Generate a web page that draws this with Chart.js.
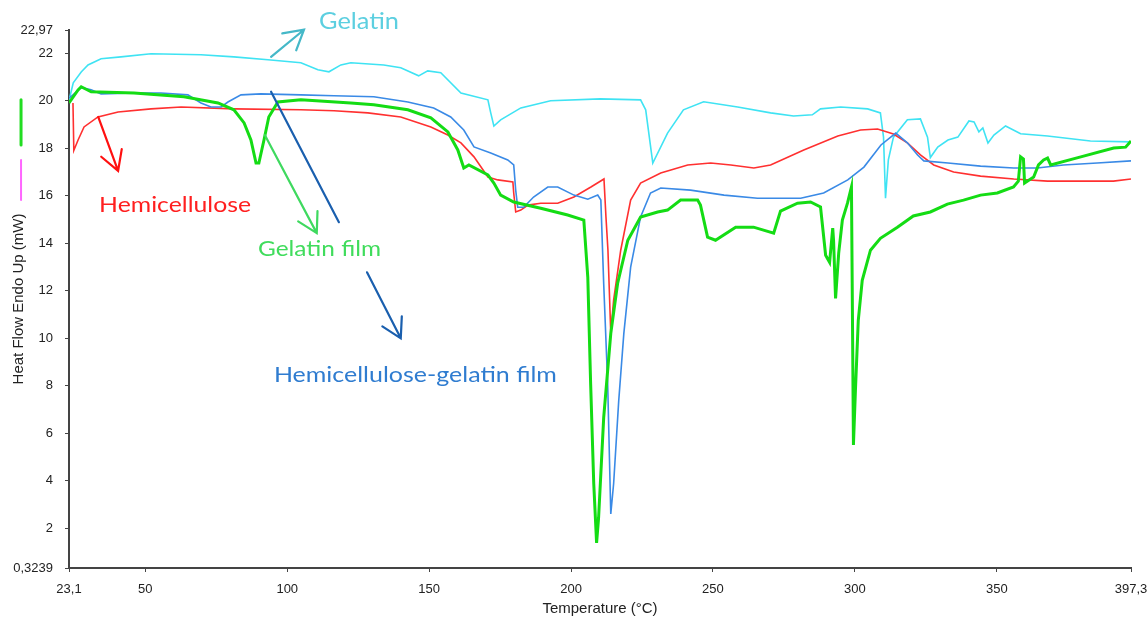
<!DOCTYPE html>
<html>
<head>
<meta charset="utf-8">
<script src="https://cdn.jsdelivr.net/npm/chart.js@4/dist/chart.umd.min.js"></script>
<style>
  html, body { margin: 0; padding: 0; background: #fff; }
</style>
</head>
<body>
<canvas id="dsc" width="1148" height="620"></canvas>
<script>
// DSC curves, temperature (°C) vs heat flow (mW)
const gelatinT = [23.1, 24.6, 27.4, 29.8, 34.4, 41.4, 52, 69.6, 81.2, 93.2, 104.8, 110.8, 114.7, 118.9, 122.4, 134, 140, 146.3, 149.5, 154.1, 161.2, 170.7, 171.7, 172.8, 175.2, 182.3, 192.8, 210.3, 224.5, 226.3, 228.8, 234, 239.6, 246.7, 258.7, 270.3, 278.4, 285, 287.9, 295, 304.5, 309, 310.1, 310.8, 311.8, 313.6, 318.5, 323.1, 325.6, 326.6, 329.2, 332.8, 336.3, 340.2, 342, 343.7, 345.1, 346.9, 349, 353.1, 358.4, 367.9, 383, 397.3];
const gelatinV = [20.0, 20.75, 21.2, 21.5, 21.76, 21.84, 21.97, 21.93, 21.84, 21.72, 21.59, 21.3, 21.21, 21.5, 21.59, 21.5, 21.38, 21.04, 21.25, 21.17, 20.32, 20.03, 19.48, 18.93, 19.19, 19.69, 19.99, 20.07, 20.03, 19.61, 17.37, 18.63, 19.61, 19.95, 19.73, 19.48, 19.35, 19.4, 19.65, 19.73, 19.65, 19.48, 18.46, 15.89, 17.5, 18.46, 19.19, 19.23, 18.46, 17.6, 18.04, 18.34, 18.46, 19.14, 19.1, 18.68, 18.85, 18.21, 18.55, 18.93, 18.6, 18.51, 18.3, 18.26];

const hemiT = [24.5, 24.8, 26.3, 28.4, 33.3, 40.4, 52, 62.6, 81.2, 104.8, 116.5, 128.4, 140, 150.6, 156.6, 161.2, 165.8, 170.7, 174.2, 179.5, 179.8, 180.5, 182.3, 184.8, 189.3, 195.3, 201, 207, 211.6, 212.3, 213, 214, 215, 217.5, 221, 224.5, 231.6, 241.1, 249.2, 256.3, 264.4, 270.3, 282, 294, 302, 308, 313.6, 318.5, 323.1, 327.8, 334.8, 344.3, 356, 367.9, 391.1, 397.3];
const hemiV = [19.9, 17.9, 18.34, 18.89, 19.31, 19.52, 19.65, 19.73, 19.65, 19.61, 19.57, 19.48, 19.31, 18.89, 18.55, 18.22, 17.63, 16.78, 16.66, 16.57, 16.11, 15.31, 15.39, 15.6, 15.68, 15.68, 15.94, 16.36, 16.7, 15.1, 13.7, 10.2, 11.6, 13.7, 15.81, 16.53, 16.95, 17.29, 17.37, 17.29, 17.16, 17.29, 17.92, 18.51, 18.76, 18.8, 18.59, 18.22, 17.71, 17.29, 16.99, 16.82, 16.7, 16.61, 16.61, 16.7];

const blendT = [23.1, 27.4, 30.9, 34.4, 46, 55.5, 65, 69.6, 73.1, 76.7, 79.1, 83.7, 90.7, 104.8, 116.5, 130.5, 142.5, 151.6, 157.6, 162.2, 165.8, 171.7, 177.7, 179.8, 180.5, 181.2, 183.3, 186.8, 191.8, 195.3, 201, 205.9, 209.4, 210.5, 211.5, 212.9, 214, 215, 216.8, 218.6, 221, 224.5, 228, 231.6, 242.1, 253.9, 265.7, 280.9, 289, 297.5, 303.2, 309.2, 314.4, 318.5, 322.1, 324.3, 332.8, 344.3, 356, 364.3, 373.5, 385.4, 397.3];
const blendV = [20.1, 20.54, 20.45, 20.28, 20.32, 20.32, 20.24, 19.9, 19.73, 19.73, 19.94, 20.24, 20.28, 20.24, 20.2, 20.16, 19.94, 19.69, 19.31, 18.76, 18.05, 17.79, 17.5, 17.29, 16.23, 15.51, 15.51, 15.94, 16.36, 16.36, 16.02, 15.85, 16.02, 15.81, 12.3, 8.1, 2.6, 3.87, 7.37, 10.2, 12.99, 15.1, 16.11, 16.32, 16.23, 16.02, 15.89, 15.89, 16.11, 16.66, 17.2, 18.13, 18.63, 18.22, 17.71, 17.46, 17.37, 17.24, 17.16, 17.16, 17.29, 17.37, 17.46];

const filmT = [23.1, 26.3, 27.4, 30.9, 46, 63.6, 75.6, 81.2, 84.8, 87.2, 89, 90, 91.8, 93.5, 96.7, 104.8, 122.4, 130.5, 142.5, 150.6, 156.6, 160.1, 162.2, 164, 170.7, 172.8, 175.2, 179.8, 189.3, 198.8, 204.5, 205.9, 206.9, 208, 209, 209.7, 211.5, 214, 216.4, 220, 224.5, 230.5, 234, 238.6, 244.6, 245.6, 248.1, 250.9, 258, 264.3, 271.4, 273.8, 279.8, 284.4, 287.9, 289.7, 291.1, 292.2, 292.5, 293.2, 294.3, 295.6, 297.4, 298.8, 299.5, 300.2, 301.2, 302.6, 305.5, 309, 315, 320.6, 326.6, 332.6, 338.3, 344.3, 350.2, 355.9, 357.6, 358.4, 359.4, 359.8, 363, 364.7, 366.5, 367.9, 369, 379.6, 391.2, 395.4, 397.3];
const filmV = [19.9, 20.45, 20.58, 20.37, 20.32, 20.16, 19.9, 19.61, 19.06, 18.34, 17.37, 17.37, 18.34, 19.31, 19.94, 20.03, 19.9, 19.82, 19.61, 19.27, 18.68, 17.92, 17.16, 17.29, 16.87, 16.53, 16.02, 15.73, 15.47, 15.18, 14.97, 12.56, 8.09, 3.87, 1.38, 2.43, 6.65, 10.2, 12.3, 14.12, 15.1, 15.31, 15.39, 15.81, 15.81, 15.6, 14.25, 14.12, 14.67, 14.67, 14.42, 15.35, 15.68, 15.73, 15.52, 13.49, 13.19, 14.63, 14.12, 11.67, 13.57, 14.97, 15.68, 16.36, 5.5, 7.8, 10.74, 12.43, 13.7, 14.2, 14.67, 15.14, 15.31, 15.64, 15.81, 16.02, 16.11, 16.36, 16.61, 17.63, 17.54, 16.53, 16.78, 17.29, 17.5, 17.58, 17.29, 17.63, 18.0, 18.04, 18.3];

// axis ticks (the software also labels the axis ends)
const xTicks = [23.1, 50, 100, 150, 200, 250, 300, 350, 397.3];
const yTicks = [0.3239, 2, 4, 6, 8, 10, 12, 14, 16, 18, 20, 22, 22.97];

// hand-drawn labels and arrows, placed in data units
const notes = [
  { text: 'Gelatin', color: '#5ccfe0', t: 111.2, v: 23.03, size: 23, w: 80 },
  { text: 'Hemicellulose', color: '#ff1f1f', t: 33.7, v: 15.3, size: 21, w: 152 },
  { text: 'Gelatin film', color: '#40dc5c', t: 89.7, v: 13.45, size: 21, w: 123 },
  { text: 'Hemicellulose-gelatin film', color: '#2f7cd0', t: 95.3, v: 8.17, size: 21, w: 283 }
];
const arrows = [
  { color: '#45b8c8', from: [94.3, 21.84], to: [105.9, 22.98], head: true },
  { color: '#ff1010', from: [33.4, 19.31], to: [40.4, 17.04], head: true },
  { color: '#3fd95f', from: [92.1, 18.55], to: [110.4, 14.42], head: true },
  { color: '#1a5fae', from: [94.3, 20.37], to: [118.2, 14.88], head: false },
  { color: '#1a5fae', from: [128.1, 12.77], to: [140, 9.99], head: true }
];
// little coloured bars left of the axis
const sideMarks = [
  { color: '#22dd22', t: 6.2, v1: 20.03, v2: 18.13, width: 3 },
  { color: '#ff66ff', t: 6.2, v1: 17.5, v2: 15.81, width: 2 }
];

function pts(xs, ys) {
  return xs.map((x, i) => ({ x: x, y: ys[i] }));
}
const comma = v => String(v).replace('.', ',');

const annotate = {
  id: 'annotate',
  afterDraw(chart) {
    const ctx = chart.ctx;
    const xs = chart.scales.x, ys = chart.scales.y;
    ctx.save();
    ctx.lineCap = 'round';
    sideMarks.forEach(m => {
      const px = xs.getPixelForValue(m.t);
      ctx.strokeStyle = m.color;
      ctx.lineWidth = m.width;
      ctx.beginPath();
      ctx.moveTo(px, ys.getPixelForValue(m.v1));
      ctx.lineTo(px, ys.getPixelForValue(m.v2));
      ctx.stroke();
    });
    arrows.forEach(a => {
      const x1 = xs.getPixelForValue(a.from[0]), y1 = ys.getPixelForValue(a.from[1]);
      const x2 = xs.getPixelForValue(a.to[0]), y2 = ys.getPixelForValue(a.to[1]);
      ctx.strokeStyle = a.color;
      ctx.lineWidth = 2.2;
      ctx.beginPath();
      ctx.moveTo(x1, y1);
      ctx.lineTo(x2, y2);
      if (a.head) {
        const ang = Math.atan2(y1 - y2, x1 - x2);
        const len = 22, spread = 0.52;
        ctx.moveTo(x2 + len * Math.cos(ang - spread), y2 + len * Math.sin(ang - spread));
        ctx.lineTo(x2, y2);
        ctx.lineTo(x2 + len * Math.cos(ang + spread), y2 + len * Math.sin(ang + spread));
      }
      ctx.stroke();
    });
    ctx.textBaseline = 'alphabetic';
    ctx.textAlign = 'left';
    notes.forEach(n => {
      ctx.font = n.size + 'px Lato';
      const sx = n.w / ctx.measureText(n.text).width;
      ctx.save();
      ctx.translate(xs.getPixelForValue(n.t), ys.getPixelForValue(n.v));
      ctx.scale(sx, 1);
      ctx.fillStyle = n.color;
      ctx.fillText(n.text, 0, 0);
      ctx.restore();
    });
    ctx.restore();
  }
};

const tickFont = { family: 'Liberation Sans, Arial, sans-serif', size: 13 };

new Chart(document.getElementById('dsc'), {
  type: 'line',
  data: {
    datasets: [
      { label: 'Gelatin film', data: pts(filmT, filmV), borderColor: '#14dc14', borderWidth: 3, order: 0 },
      { label: 'Hemicellulose-gelatin film', data: pts(blendT, blendV), borderColor: '#3a8ae6', borderWidth: 1.6, order: 1 },
      { label: 'Hemicellulose', data: pts(hemiT, hemiV), borderColor: '#ff3030', borderWidth: 1.6, order: 2 },
      { label: 'Gelatin', data: pts(gelatinT, gelatinV), borderColor: '#3fe3f3', borderWidth: 1.6, order: 3 }
    ]
  },
  options: {
    responsive: false,
    animation: false,
    devicePixelRatio: 1,
    datasets: { line: { pointRadius: 0, tension: 0, fill: false } },
    layout: { padding: { top: 30, right: 17, left: 0, bottom: 0 } },
    plugins: { legend: { display: false }, tooltip: { enabled: false } },
    scales: {
      x: {
        type: 'linear', min: 23.1, max: 397.3,
        afterBuildTicks: s => { s.ticks = xTicks.map(v => ({ value: v })); },
        afterFit: s => { s.height = 52; s.paddingLeft = 0; s.paddingRight = 0; },
        ticks: { autoSkip: false, maxRotation: 0, padding: 10, color: '#222', font: tickFont, callback: v => comma(v) },
        grid: { drawOnChartArea: false, tickLength: 4, color: '#444' },
        border: { color: '#444', width: 2 },
        title: { display: true, text: 'Temperature (°C)', color: '#222', font: { family: 'Liberation Sans, Arial, sans-serif', size: 15 }, padding: { top: 0, bottom: 2 } }
      },
      y: {
        type: 'linear', min: 0.3239, max: 22.97,
        afterBuildTicks: s => { s.ticks = yTicks.map(v => ({ value: v })); },
        afterFit: s => { s.width = 69; s.paddingTop = 0; s.paddingBottom = 0; },
        ticks: { autoSkip: false, padding: 12, color: '#222', font: tickFont, callback: v => comma(v) },
        grid: { drawOnChartArea: false, tickLength: 4, color: '#444' },
        border: { color: '#444', width: 2 },
        title: { display: true, text: 'Heat Flow Endo Up (mW)', color: '#222', font: { family: 'Liberation Sans, Arial, sans-serif', size: 15 }, padding: { top: 10, bottom: 0 } }
      }
    }
  },
  plugins: [annotate]
});
</script>
</body>
</html>
